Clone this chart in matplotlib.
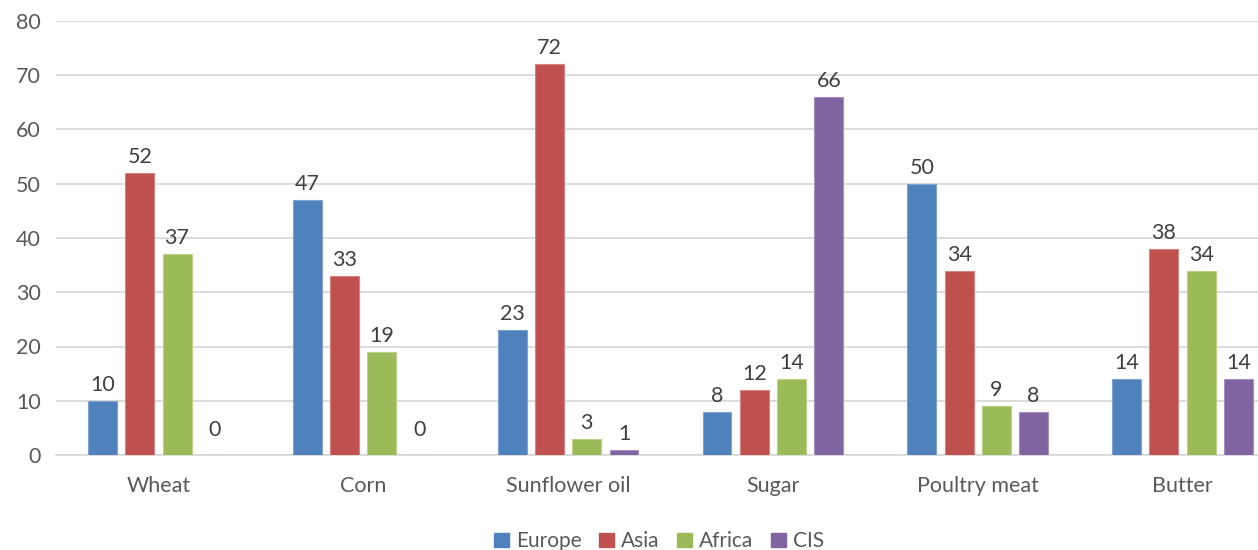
import numpy as np
import matplotlib.pyplot as plt
from matplotlib.patches import Patch

categories = ["Wheat", "Corn", "Sunflower oil", "Sugar", "Poultry meat", "Butter"]
series = ["Europe", "Asia", "Africa", "CIS"]
europe = [10, 47, 23, 8, 50, 14]
asia = [52, 33, 72, 12, 34, 38]
africa = [37, 19, 3, 14, 9, 34]
cis = [0, 0, 1, 66, 8, 14]
values = [europe, asia, africa, cis]

colors = ["#4F81BD", "#C0504D", "#9BBB59", "#8064A2"]
edges = ["#7FA3D0", "#D48482", "#BBD28B", "#A591BD"]

plt.rcParams['font.family'] = ['Lato', 'DejaVu Sans']

fig = plt.figure(figsize=(12.58, 5.5), dpi=100)
# plot area extends past the right edge like the cropped original
ax = fig.add_axes([56 / 1258, 95 / 550, 1229 / 1258, 434 / 550])

x = np.arange(len(categories))
pitch = 0.182
width = 0.1415
for i, (name, vals) in enumerate(zip(series, values)):
    pos = x + (i - 1.5) * pitch
    bars = ax.bar(pos, vals, width, color=colors[i], edgecolor=edges[i],
                  linewidth=0.8, label=name, zorder=3)
    for b, v in zip(bars, vals):
        off = 16 if v > 0 else 25
        ax.annotate(str(v), (b.get_x() + b.get_width() / 2, v),
                    xytext=(0, off * 0.72), textcoords="offset points",
                    ha="center", va="center", fontsize=15.5, color="#404040")

ax.set_xlim(-0.5, len(categories) - 0.5)
ax.set_ylim(0, 80)
ax.set_yticks(range(0, 81, 10))
ax.set_xticks(x)
ax.set_xticklabels(categories)
ax.yaxis.grid(True, color="#D9D9D9", linewidth=1.3, zorder=0)
ax.set_axisbelow(True)
for s in ["top", "right", "left"]:
    ax.spines[s].set_visible(False)
ax.spines["bottom"].set_color("#D9D9D9")
ax.spines["bottom"].set_linewidth(1.3)
ax.tick_params(axis="both", length=0, labelsize=15.5, colors="#595959")
ax.tick_params(axis="x", pad=15)
ax.tick_params(axis="y", pad=11)

handles = [Patch(facecolor=c, edgecolor=c) for c in colors]
fig.legend(handles, series, loc="center", bbox_to_anchor=(0.524, 0.016),
           ncol=4, frameon=False, fontsize=15, labelcolor="#595959",
           handlelength=0.7, handleheight=0.7, handletextpad=0.35,
           columnspacing=0.85)

plt.savefig("out.png", dpi=100)
plt.close()
